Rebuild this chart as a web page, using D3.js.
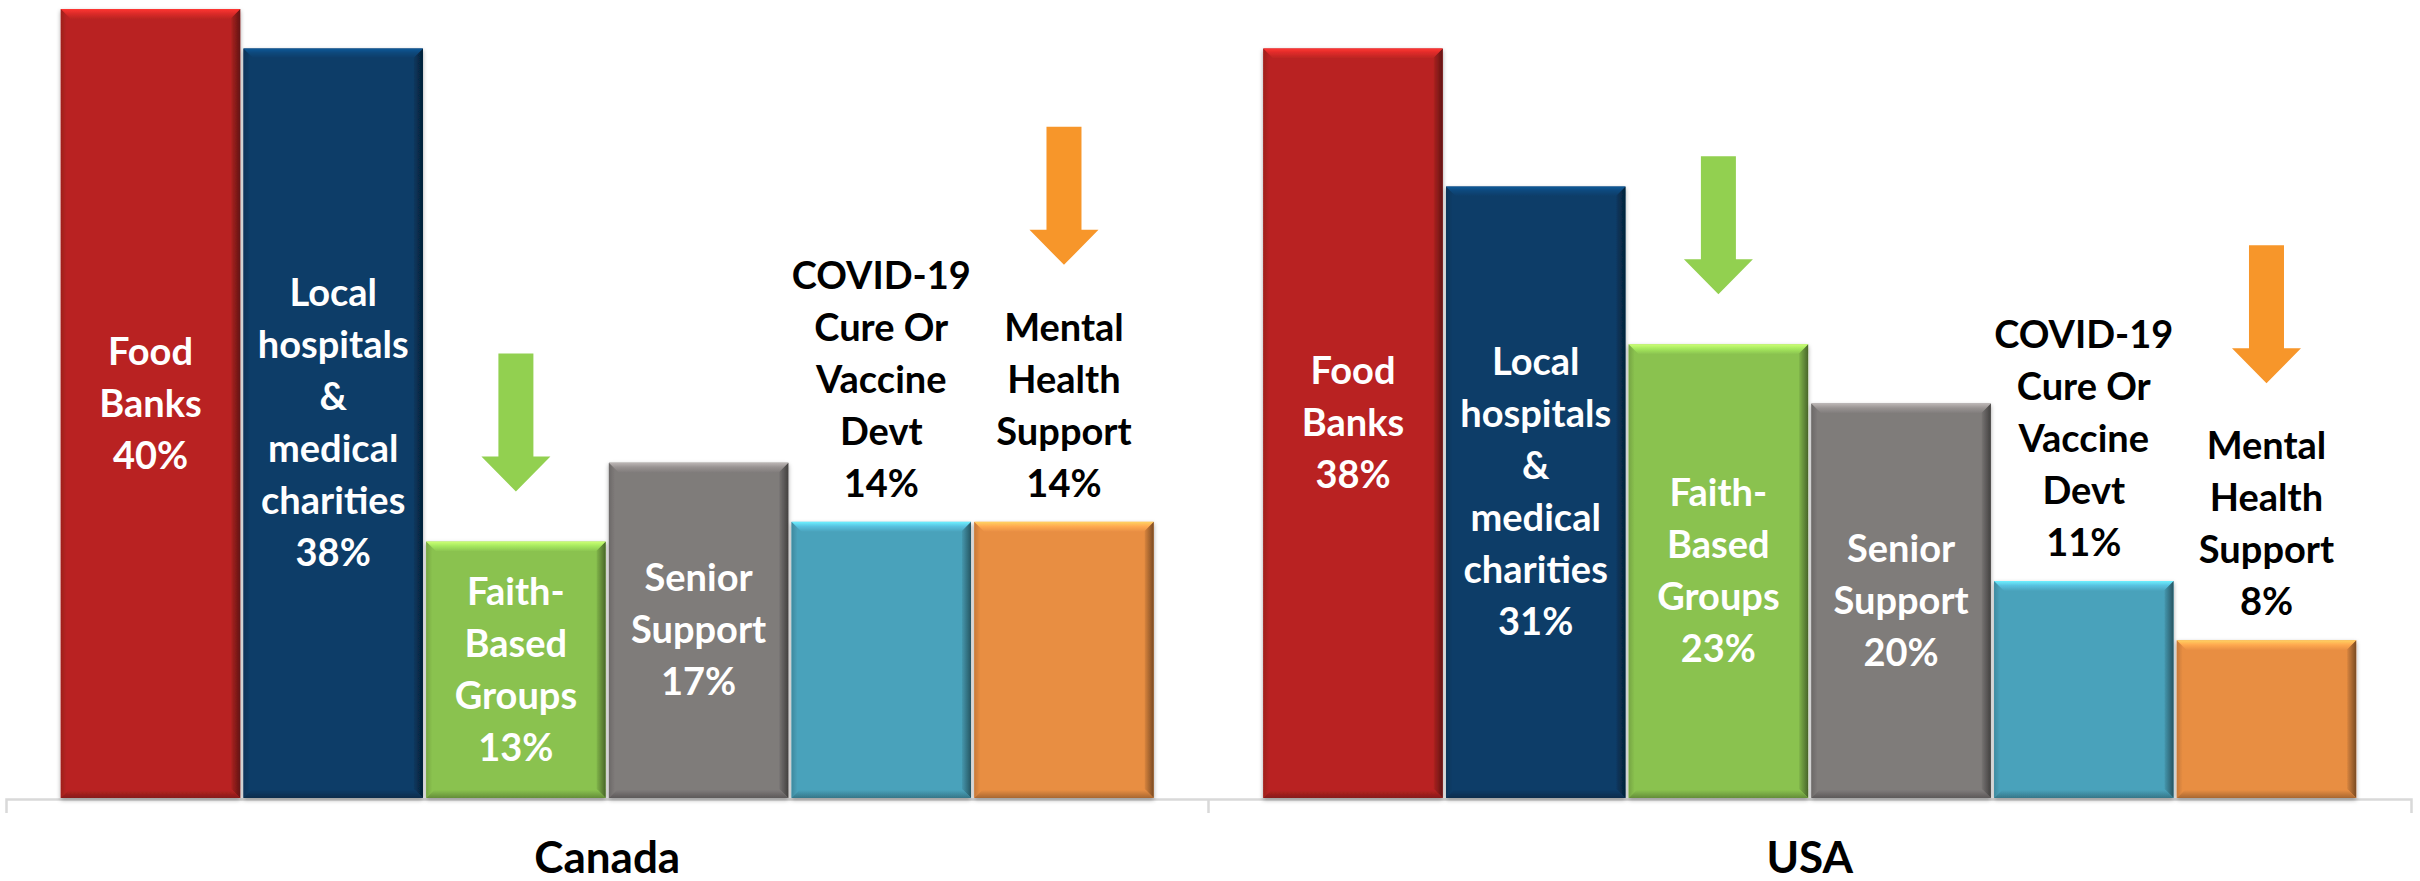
<!DOCTYPE html>
<html>
<head>
<meta charset="utf-8">
<script src="https://cdn.jsdelivr.net/npm/d3@7"></script>
<style>
  html, body { margin: 0; padding: 0; background: #ffffff; }
  svg { display: block; }
  text { font-family: "Lato", "Open Sans", sans-serif; font-weight: 700; }
</style>
</head>
<body>
<script>
// ---- data ----
const countries = ["Canada", "USA"];
const categories = [
  "Food Banks",
  "Local hospitals & medical charities",
  "Faith-Based Groups",
  "Senior Support",
  "COVID-19 Cure Or Vaccine Devt",
  "Mental Health Support"
];
const categoryLines = [
  ["Food", "Banks"],
  ["Local", "hospitals", "&", "medical", "charities"],
  ["Faith-", "Based", "Groups"],
  ["Senior", "Support"],
  ["COVID-19", "Cure Or", "Vaccine", "Devt"],
  ["Mental", "Health", "Support"]
];
const canadaValues = [40, 38, 13, 17, 14, 14];
const usaValues = [38, 31, 23, 20, 11, 8];
const valuesByCountry = { Canada: canadaValues, USA: usaValues };
// categories flagged with a downward arrow
const arrowCategories = ["Faith-Based Groups", "Mental Health Support"];
// categories whose label sits above the bar
const outsideLabelCategories = ["COVID-19 Cure Or Vaccine Devt", "Mental Health Support"];

// ---- styling ----
const barColors = ["#B92422", "#0A3C67", "#8AC24F", "#7F7B7A", "#4AA2BB", "#E88E43"];
const arrowColors = { "Faith-Based Groups": "#92D050", "Mental Health Support": "#F7962A" };

const W = 2420, H = 881;
const baseY = 798;
const lineH = 52;
const fontSize = 38;
const capH = 26;

const svg = d3.select("body").append("svg").attr("width", W).attr("height", H);
const defs = svg.append("defs");

// soft outer shadow for the bars
const shadow = defs.append("filter").attr("id", "barShadow")
  .attr("x", "-10%").attr("y", "-10%").attr("width", "120%").attr("height", "120%");
shadow.append("feDropShadow").attr("dx", 0).attr("dy", 2).attr("stdDeviation", 2)
  .attr("flood-color", "#000").attr("flood-opacity", 0.35);

// bevel gradients per colour
function grad(id, x2, y2, stops) {
  const g = defs.append("linearGradient").attr("id", id)
    .attr("x1", 0).attr("y1", 0).attr("x2", x2).attr("y2", y2);
  stops.forEach(([o, c]) => g.append("stop").attr("offset", o).attr("stop-color", c));
}
barColors.forEach((c, i) => {
  const base = d3.color(c);
  const hex = k => (k >= 0 ? base.brighter(k) : base.darker(-k)).formatHex();
  grad("top" + i, 0, 1, [["0%", hex(1.1)], ["45%", hex(0.5)], ["100%", hex(0)]]);
  grad("bot" + i, 0, 1, [["0%", hex(0)], ["100%", hex(-0.9)]]);
  grad("right" + i, 1, 0, [["0%", hex(-0.2)], ["100%", hex(-1.8)]]);
  grad("left" + i, 1, 0, [["0%", hex(-0.45)], ["100%", hex(0)]]);
});

// ---- scales ----
const x0 = d3.scaleBand().domain(countries).range([6, 2411]).padding(0);
const x1 = d3.scaleBand().domain(categories).range([0, x0.bandwidth()])
  .paddingInner(0.018).paddingOuter(0.3);
const y = d3.scaleLinear().domain([0, 40]).range([baseY, 9]);

// ---- axis ----
const axisG = svg.append("g").attr("transform", `translate(0,${baseY + 1})`)
  .call(d3.axisBottom(x0).tickSize(0).tickSizeOuter(14));
axisG.select(".domain").attr("stroke", "#D9D9D9").attr("stroke-width", 2.5);
axisG.append("line")
  .attr("x1", x0("USA")).attr("x2", x0("USA"))
  .attr("y1", 0).attr("y2", 14)
  .attr("stroke", "#D9D9D9").attr("stroke-width", 2.5);
axisG.selectAll(".tick text")
  .attr("y", 74).attr("dy", 0)
  .attr("fill", "#000")
  .style("font-size", "44px")
  .style("font-family", "Lato, 'Open Sans', sans-serif")
  .style("font-weight", 700);

// ---- bars ----
const rows = [];
countries.forEach(country => {
  categories.forEach((cat, i) => {
    rows.push({ country, cat, i, value: valuesByCountry[country][i] });
  });
});

const barG = svg.append("g");
const bars = barG.selectAll("g.bar").data(rows).join("g")
  .attr("class", "bar")
  .attr("filter", "url(#barShadow)");

bars.each(function(d) {
  const g = d3.select(this);
  const x = x0(d.country) + x1(d.cat);
  const w = x1.bandwidth();
  const yt = y(d.value);
  const yb = baseY;
  const bt = 10, bb = 8, br = 9, bl = 6;
  g.append("rect").attr("x", x).attr("y", yt).attr("width", w).attr("height", yb - yt)
    .attr("fill", barColors[d.i]);
  const poly = pts => pts.map(p => p.join(",")).join(" ");
  g.append("polygon").attr("points", poly([[x, yt], [x + bl, yt + bl], [x + bl, yb - bl], [x, yb]]))
    .attr("fill", `url(#left${d.i})`);
  g.append("polygon").attr("points", poly([[x + w, yt], [x + w, yb], [x + w - br, yb - br], [x + w - br, yt + br]]))
    .attr("fill", `url(#right${d.i})`);
  g.append("polygon").attr("points", poly([[x, yb], [x + w, yb], [x + w - bb, yb - bb], [x + bb, yb - bb]]))
    .attr("fill", `url(#bot${d.i})`);
  g.append("polygon").attr("points", poly([[x, yt], [x + w, yt], [x + w - bt, yt + bt], [x + bt, yt + bt]]))
    .attr("fill", `url(#top${d.i})`);
});

// ---- labels ----
const labelG = svg.append("g");
rows.forEach(d => {
  const lines = categoryLines[d.i].concat([d.value + "%"]);
  const n = lines.length;
  const cx = x0(d.country) + x1(d.cat) + x1.bandwidth() / 2;
  const outside = outsideLabelCategories.includes(d.cat);
  let firstBaseline;
  if (outside) {
    const lastBaseline = y(d.value) - 25;
    firstBaseline = lastBaseline - (n - 1) * lineH;
  } else {
    const center = (y(d.value) + baseY) / 2;
    firstBaseline = center - (n - 1) * lineH / 2 + capH / 2;
  }
  d.labelTop = firstBaseline - capH;
  const t = labelG.append("text")
    .attr("text-anchor", "middle")
    .attr("fill", outside ? "#000" : "#fff")
    .style("font-size", fontSize + "px");
  lines.forEach((s, k) => {
    t.append("tspan").attr("x", cx).attr("y", firstBaseline + k * lineH).text(s);
  });
});

// ---- arrows ----
const arrowLen = 138, shaftHalf = 17.5, headHalf = 34.5, headLen = 35, arrowGap = 50;
const arrowG = svg.append("g");
rows.filter(d => arrowCategories.includes(d.cat)).forEach(d => {
  const cx = x0(d.country) + x1(d.cat) + x1.bandwidth() / 2;
  const outside = outsideLabelCategories.includes(d.cat);
  const tip = (outside ? d.labelTop : y(d.value)) - arrowGap;
  const top = tip - arrowLen;
  const hs = tip - headLen;
  const p = d3.path();
  p.moveTo(cx - shaftHalf, top);
  p.lineTo(cx + shaftHalf, top);
  p.lineTo(cx + shaftHalf, hs);
  p.lineTo(cx + headHalf, hs);
  p.lineTo(cx, tip);
  p.lineTo(cx - headHalf, hs);
  p.lineTo(cx - shaftHalf, hs);
  p.closePath();
  arrowG.append("path").attr("d", p.toString()).attr("fill", arrowColors[d.cat]);
});
</script>
</body>
</html>
